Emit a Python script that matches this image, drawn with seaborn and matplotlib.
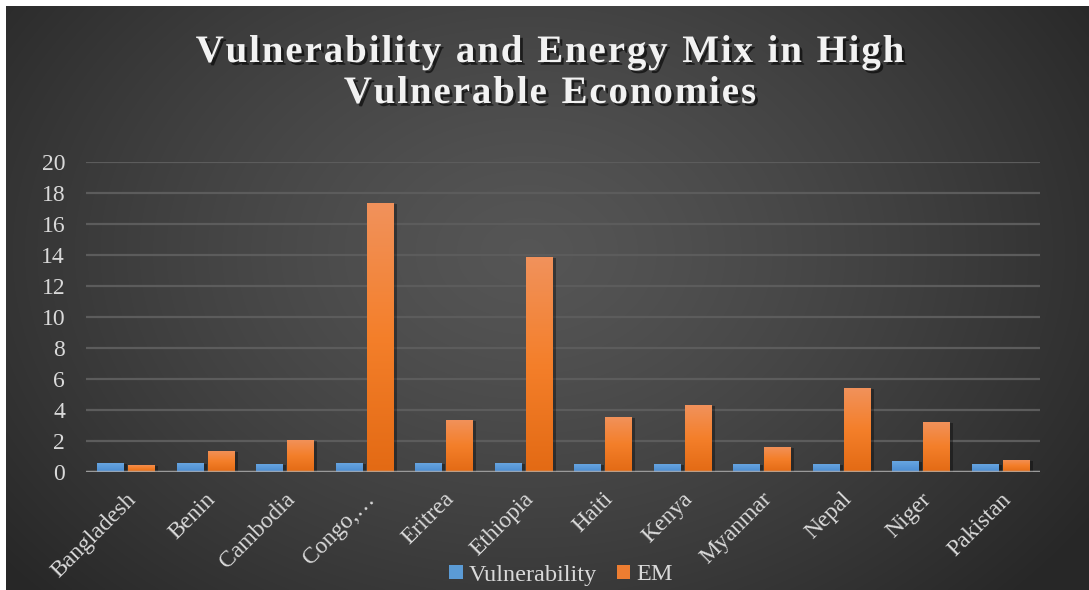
import numpy as np
import pandas as pd
import matplotlib
matplotlib.use("Agg")
import matplotlib.pyplot as plt
import matplotlib.patheffects as pe
from matplotlib.colors import LinearSegmentedColormap
from matplotlib.patches import Patch
import seaborn as sns

# ---- data ----
countries = ["Bangladesh", "Benin", "Cambodia", "Congo,…", "Eritrea", "Ethiopia",
             "Haiti", "Kenya", "Myanmar", "Nepal", "Niger", "Pakistan"]
vulnerability = [0.60, 0.60, 0.54, 0.60, 0.60, 0.60, 0.53, 0.53, 0.53, 0.53, 0.72, 0.53]
em = [0.47, 1.37, 2.08, 17.37, 3.37, 13.89, 3.55, 4.32, 1.62, 5.42, 3.23, 0.78]
series = ["Vulnerability", "EM"]
yticks = list(range(0, 21, 2))
title_lines = ["Vulnerability and Energy Mix in High", "Vulnerable Economies"]

df = pd.DataFrame({
    "country": countries * 2,
    "value": vulnerability + em,
    "series": [series[0]] * len(countries) + [series[1]] * len(countries),
})

base_colors = {"Vulnerability": "#5b9bd5", "EM": "#ed7d31"}
# bottom -> top colour stops for the bar fills
fill_stops = {"Vulnerability": ["#4a8bd0", "#6aa8e2"],
              "EM": ["#e36a14", "#f47f2a", "#f1925c"]}
text_color = "#d9d9d9"

sns.set_theme(style="dark")
plt.rcParams["font.family"] = ["Liberation Serif", "DejaVu Serif"]

W, H = 1089, 590
fig = plt.figure(figsize=(W / 100, H / 100), dpi=100, facecolor="white")

# ---- dark radial backdrop ----
bg = fig.add_axes([6 / W, 0, 1 - 6 / W, 584 / H])
bh, bw = 292, 542
yy, xx = np.mgrid[0:bh, 0:bw]
r = np.sqrt(((xx - 0.48 * bw) / (0.62 * bw)) ** 2 + ((yy - 0.42 * bh) / (0.85 * bh)) ** 2)
r = np.clip(r, 0, 1)
shade = 0.335 - 0.18 * r ** 1.3
bg.imshow(np.dstack([shade] * 3), aspect="auto", interpolation="bilinear",
          extent=(0, 1, 0, 1))
bg.set_axis_off()

# ---- bars ----
ax = fig.add_axes([86 / W, 1 - 472 / H, (1040 - 86) / W, (472 - 162) / H])
ax.set_facecolor("none")
sns.barplot(data=df, x="country", y="value", hue="series", order=countries,
            hue_order=series, palette=base_colors, saturation=1, width=0.78,
            gap=0.16, legend=False, ax=ax, zorder=3)

grad = np.linspace(0, 1, 256).reshape(-1, 1)
for cont, name in zip(ax.containers, series):
    cmap = LinearSegmentedColormap.from_list(name, fill_stops[name])
    for bar in cont:
        bar.set_linewidth(0)
        bar.set_path_effects([pe.SimplePatchShadow(offset=(3, -1), shadow_rgbFace="black",
                                                   alpha=0.35), pe.Normal()])
        x0, y0 = bar.get_x(), bar.get_y()
        bw_, bh_ = bar.get_width(), bar.get_height()
        im = ax.imshow(grad, extent=(x0, x0 + bw_, y0, y0 + bh_), origin="lower",
                       cmap=cmap, aspect="auto", interpolation="bilinear", zorder=3.5)
        im.set_clip_path(bar)

ax.set_xlim(-0.5, len(countries) - 0.5)
ax.set_ylim(0, 20)
ax.set_yticks(yticks)
ax.set_yticklabels([str(t) for t in yticks])
ax.yaxis.grid(True, color="#5c5c5c", linewidth=1.6)
ax.xaxis.grid(False)
ax.set_axisbelow(True)
ax.axhline(0, color="#b0b0b0", linewidth=2.5, alpha=0.75, zorder=5)
for s in ax.spines.values():
    s.set_visible(False)
ax.set_xlabel("")
ax.set_ylabel("")
ax.tick_params(axis="both", length=0, colors=text_color, labelsize=17)
ax.tick_params(axis="y", pad=15)
ax.tick_params(axis="x", pad=12)
for lbl in ax.get_xticklabels():
    lbl.set_rotation(45)
    lbl.set_ha("right")
    lbl.set_rotation_mode("anchor")

# ---- legend ----
handles = [Patch(facecolor=base_colors[s], edgecolor="none", label=s) for s in series]
fig.legend(handles=handles, loc="center", bbox_to_anchor=(561 / W, 1 - 575 / H), ncol=2,
           frameon=False, fontsize=17.5, labelcolor=text_color, handlelength=0.55,
           handleheight=0.55, handletextpad=0.25, columnspacing=0.8,
           borderpad=0, borderaxespad=0)

# ---- title with widened letter spacing ----
renderer = fig.canvas.get_renderer()
title_kw = dict(fontsize=28, fontweight="bold", color="#f2f2f2", va="baseline", ha="left",
                path_effects=[pe.SimplePatchShadow(offset=(2, -2), shadow_rgbFace="black",
                                                   alpha=0.6), pe.Normal()])
tracking = 1.9          # extra pixels between letters
centre_x = 550
for line, base_y in zip(title_lines, [62, 103]):
    widths = []
    for ch in line:
        probe = fig.text(0, 0, ch if ch != " " else "n", fontsize=28, fontweight="bold")
        w_ch = probe.get_window_extent(renderer).width
        if ch == " ":
            w_ch *= 0.5
        widths.append(w_ch)
        probe.remove()
    total = sum(widths) + tracking * (len(line) - 1)
    x = centre_x - total / 2
    for ch, w_ch in zip(line, widths):
        if ch != " ":
            fig.text(x / W, 1 - base_y / H, ch, **title_kw)
        x += w_ch + tracking

fig.savefig("out.png", dpi=100, facecolor=fig.get_facecolor())
